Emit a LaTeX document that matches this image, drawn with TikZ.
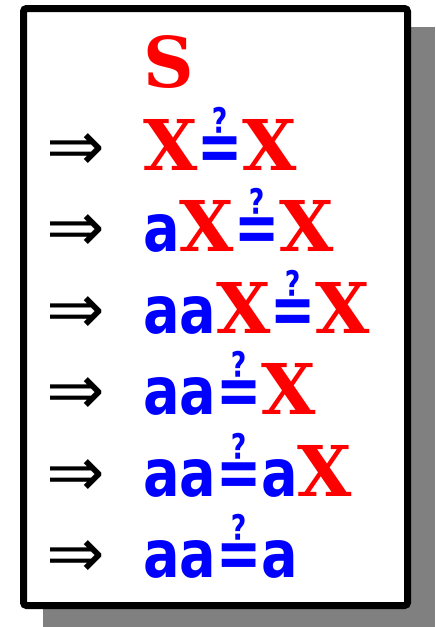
\documentclass[tikz,border=0pt]{standalone}
\usepackage{fontspec}
\newfontfamily\dserif{DejaVu Serif}
\newfontfamily\dsans{DejaVu Sans}
\newfontfamily\dsansa{DejaVu Sans}[FakeStretch=0.82]
\newfontfamily\dsansq{DejaVu Sans}[FakeStretch=0.77]
\newcommand{\Xs}{{\color{red}\dserif\bfseries X}}
\newcommand{\Ss}{{\color{red}\dserif\bfseries S}}
\newcommand{\As}{{\color{blue}\dsansa\bfseries\fontsize{66}{66}\selectfont a}}
\newcommand{\Qs}{{\color{blue}\dsansq\bfseries ≟}}
\begin{document}
\begin{tikzpicture}[x=1pt,y=-1pt,
  txt/.style={anchor=base west,inner sep=0pt,font=\fontsize{70}{70}\selectfont},
  arr/.style={anchor=base west,inner sep=0pt,font=\dsans\fontsize{70}{70}\selectfont}]
\useasboundingbox (0,0) rectangle (436,627);
\fill[black!50] (43,27) rectangle (435,627);
\draw[line width=7pt,fill=white,rounded corners=3pt] (23.5,8.5) rectangle (407.5,605.5);
\node[txt] (s) at (143,87) {\Ss};
\node[txt] (r1) at (143,170) {\Xs\Qs\Xs};
\node[txt] (r2) at (143,251) {\As\Xs\Qs\Xs};
\node[txt] (r3) at (143,333) {\As\As\Xs\Qs\Xs};
\node[txt] (r4) at (143,414) {\As\As\Qs\Xs};
\node[txt] (r5) at (143,496) {\As\As\Qs\As\Xs};
\node[txt] (r6) at (143,577) {\As\As\Qs\As};
\foreach \y/\n in {170/1,251/2,333/3,414/4,496/5,577/6}
  \node[arr] (a\n) at (46,\y) {⇒};
\end{tikzpicture}
\end{document}
